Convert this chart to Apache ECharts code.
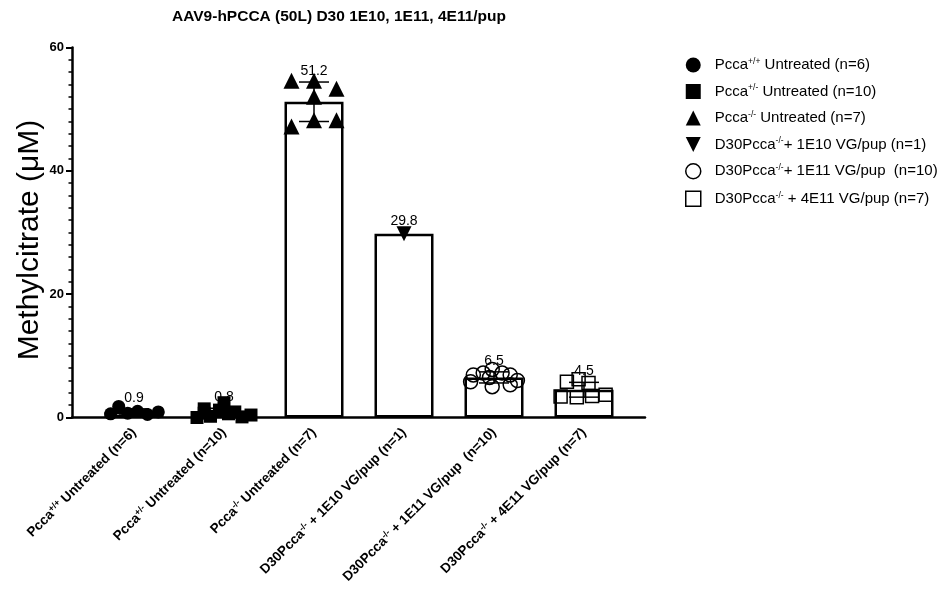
<!DOCTYPE html>
<html><head><meta charset="utf-8">
<script src="https://cdn.jsdelivr.net/npm/echarts@6/dist/echarts.min.js"></script>
<style>html,body{margin:0;padding:0;background:#fff}#c{width:943px;height:590px}</style>
</head><body><div id="c"></div>
<script>
// ---- data ----
const titleText = 'AAV9-hPCCA (50L) D30 1E10, 1E11, 4E11/pup';
const yAxisName = 'Methylcitrate (\u03bcM)';
const catPrefix = ['Pcca', 'Pcca', 'Pcca', 'D30Pcca', 'D30Pcca', 'D30Pcca'];
const catSup = ['+/+', '+/-', '-/-', '-/-', '-/-', '-/-'];
const catSuffix = [' Untreated (n=6)', ' Untreated (n=10)', ' Untreated (n=7)', ' + 1E10 VG/pup (n=1)', ' + 1E11 VG/pup  (n=10)', ' + 4E11 VG/pup (n=7)'];
const legendSuffix = [' Untreated (n=6)', ' Untreated (n=10)', ' Untreated (n=7)', '+ 1E10 VG/pup (n=1)', '+ 1E11 VG/pup  (n=10)', ' + 4E11 VG/pup (n=7)'];
const means = [0.9, 0.8, 51.2, 29.8, 6.5, 4.5];
const sds = [0.5, 0.7, 3.2, 0, 0.9, 1.2];
const yTicks = [0, 20, 40, 60];

const pts1 = [0.6, 1.8, 0.7, 1.0, 0.5, 0.9];
const jit1 = [-0.26, -0.17, -0.07, 0.04, 0.15, 0.27];
const pts2 = [0.0, 0.1, 0.2, 0.4, 0.6, 0.7, 0.9, 1.2, 1.4, 2.4];
const jit2 = [-0.3, 0.2, -0.15, 0.3, 0.05, -0.22, 0.12, -0.05, -0.22, 0.0];
const pts3 = [54.6, 54.6, 53.3, 52.0, 47.2, 48.2, 48.2];
const jit3 = [-0.25, 0, 0.25, 0, -0.25, 0, 0.25];
const pts4 = [29.8];
const jit4 = [0];
const pts5 = [7.8, 7.2, 7.2, 6.9, 6.9, 6.5, 6.0, 5.8, 5.3, 5.0];
const jit5 = [-0.02, -0.12, 0.09, -0.23, 0.18, -0.05, 0.26, -0.26, 0.18, -0.02];
const pts6 = [6.2, 5.8, 5.6, 3.7, 3.5, 3.4, 3.3];
const jit6 = [-0.06, -0.19, 0.05, 0.24, 0.09, -0.26, -0.08];

const allPts = [pts1, pts2, pts3, pts4, pts5, pts6];
const allJit = [jit1, jit2, jit3, jit4, jit5, jit6];

// ---- build ----
const FONT = 'Liberation Sans, Arial, sans-serif';
const catLabels = catPrefix.map((p, i) => '{b|' + p + '}{s|' + catSup[i] + '}{b|' + catSuffix[i] + '}');
const seriesNames = catPrefix.map((p, i) => p + catSup[i] + legendSuffix[i]);
const legendRich = {};
seriesNames.forEach((n, i) => { legendRich[n] = '{n|' + catPrefix[i] + '}{s|' + catSup[i] + '}{n|' + legendSuffix[i] + '}'; });

const symbols = ['circle', 'rect', 'triangle', 'path://M0,0L10,0L5,10Z', 'circle', 'rect'];
const filled = [true, true, true, true, false, false];
const sizes = [13, 13, 16, 15, 14, 13];

const scatterSeries = allPts.map((pts, g) => ({
  name: seriesNames[g],
  type: 'scatter',
  xAxisIndex: 2,
  yAxisIndex: 0,
  symbol: symbols[g],
  symbolSize: sizes[g],
  symbolKeepAspect: true,
  z: 4,
  itemStyle: filled[g]
    ? { color: '#000', borderColor: '#000', borderWidth: 0, opacity: 1 }
    : { color: 'rgba(255,255,255,0)', borderColor: '#000', borderWidth: 1.5, opacity: 1 },
  data: pts.map((v, k) => [g + allJit[g][k], v])
}));

const chart = echarts.init(document.getElementById('c'), null, { renderer: 'canvas' });
const gridV = { top: 47.5, bottom: 172.5 };
chart.setOption({
  animation: false,
  backgroundColor: '#fff',
  title: {
    text: titleText, left: 334, top: 4, textAlign: 'center',
    textStyle: { fontFamily: FONT, fontSize: 15.5, fontWeight: 'bold', color: '#000' }
  },
  graphic: [{
    type: 'text', x: 30, y: 240, rotation: Math.PI / 2,
    style: { text: yAxisName, align: 'center', verticalAlign: 'middle', fontFamily: FONT, fontSize: 30, fill: '#000' }
  }],
  grid: [
    Object.assign({ left: 89, right: 314 }, gridV),
    Object.assign({ left: 72, right: 298 }, gridV)
  ],
  legend: {
    data: seriesNames.map((n, i) => ({ name: n, itemStyle: filled[i] ? { color: '#000' } : { color: 'rgba(255,255,255,0)', borderColor: '#000', borderWidth: 1.5 } })),
    orient: 'vertical', left: 680, top: 52,
    itemWidth: 15, itemHeight: 15, itemGap: 11,
    formatter: n => legendRich[n],
    textStyle: {
      fontFamily: FONT, fontSize: 15, color: '#000', padding: [0, 0, 0, 9],
      rich: { n: { fontFamily: FONT, fontSize: 15, color: '#000' }, s: { fontFamily: FONT, fontSize: 8.5, color: '#000', verticalAlign: 'top', lineHeight: 16 } }
    }
  },
  xAxis: [
    {
      type: 'category', gridIndex: 0, data: catLabels,
      axisLine: { show: false },
      axisTick: { alignWithLabel: true, length: 6, lineStyle: { color: '#000', width: 2 } },
      axisLabel: {
        interval: 0, rotate: 45, margin: 13, color: '#000',
        rich: {
          b: { fontFamily: FONT, fontSize: 13.5, fontWeight: 'bold', color: '#000', lineHeight: 15 },
          s: { fontFamily: FONT, fontSize: 9, fontWeight: 'bold', color: '#000', verticalAlign: 'top', lineHeight: 15 }
        }
      },
      splitLine: { show: false }
    },
    {
      type: 'value', gridIndex: 1, min: 0, max: 1,
      axisLine: { show: true, onZero: false, lineStyle: { color: '#000', width: 2.5 } },
      axisTick: { show: false }, axisLabel: { show: false }, splitLine: { show: false }
    },
    { type: 'value', gridIndex: 0, min: -0.5, max: 5.5, show: false, splitLine: { show: false } }
  ],
  yAxis: [
    { type: 'value', gridIndex: 0, min: 0, max: 60, show: false, splitLine: { show: false } },
    {
      type: 'value', gridIndex: 1, min: yTicks[0], max: yTicks[yTicks.length - 1], interval: 20,
      axisLine: { show: true, onZero: false, lineStyle: { color: '#000', width: 2.5 } },
      axisTick: { show: true, length: 6, lineStyle: { color: '#000', width: 2 } },
      minorTick: { show: true, splitNumber: 10, length: 3.5, lineStyle: { color: '#000', width: 1.5 } },
      axisLabel: { fontFamily: FONT, fontSize: 13, fontWeight: 'bold', color: '#000', margin: 8 },
      splitLine: { show: false }
    }
  ],
  series: [
    {
      type: 'bar', xAxisIndex: 0, yAxisIndex: 0, data: means, barWidth: 59, z: 2,
      itemStyle: { color: '#fff', borderColor: '#000', borderWidth: 2.5 }
    },
    {
      type: 'custom', xAxisIndex: 0, yAxisIndex: 0, z: 5,
      data: means.map((m, i) => [i, m, sds[i]]),
      renderItem: function (params, api) {
        const i = api.value(0), m = api.value(1), s = api.value(2);
        const top = api.coord([i, m + s]);
        const bot = api.coord([i, m - s]);
        const ch = [];
        const ls = { stroke: '#000', lineWidth: 1.5 };
        if (s > 0) {
          ch.push({ type: 'line', shape: { x1: top[0], y1: top[1], x2: bot[0], y2: bot[1] }, style: ls });
          ch.push({ type: 'line', shape: { x1: top[0] - 15, y1: top[1], x2: top[0] + 15, y2: top[1] }, style: ls });
          ch.push({ type: 'line', shape: { x1: bot[0] - 15, y1: bot[1], x2: bot[0] + 15, y2: bot[1] }, style: ls });
        }
        ch.push({
          type: 'text', z2: 10,
          style: { x: top[0], y: top[1] - (s > 0 ? 4 : 6), text: m.toFixed(1), align: 'center', verticalAlign: 'bottom', fontFamily: FONT, fontSize: 14, fill: '#000' }
        });
        return { type: 'group', children: ch };
      }
    }
  ].concat(scatterSeries)
});
</script>
</body></html>
